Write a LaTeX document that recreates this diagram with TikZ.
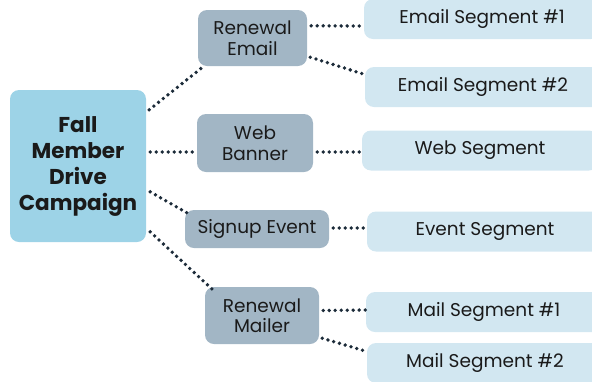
\documentclass[tikz,border=0pt]{standalone}
\usepackage{fontspec}
\setmainfont{Poppins}
\usepackage{tikz}

\definecolor{campblue}{HTML}{9DD3E7}
\definecolor{chanblue}{HTML}{A2B6C5}
\definecolor{segblue}{HTML}{D2E7F1}
\definecolor{dotnavy}{HTML}{1C2B39}
\definecolor{inkdark}{HTML}{1A1A1A}

\tikzset{
  campaign/.style={fill=campblue, rounded corners=9pt, align=center, text=inkdark,
    font=\fontsize{21.5}{26}\selectfont\bfseries},
  channel/.style={fill=chanblue, rounded corners=9pt, align=center, text=inkdark,
    font=\fontsize{18.5}{20.5}\selectfont},
  segment/.style={fill=segblue, rounded corners=9pt, minimum width=236pt, minimum height=40pt,
    text=inkdark, font=\fontsize{18.5}{20.5}\selectfont},
  dots/.style={draw=dotnavy, line width=3.8pt, line cap=round, dash pattern=on 0pt off 6pt}
}

\begin{document}
\begin{tikzpicture}[x=1pt,y=-1pt]
        \useasboundingbox (0,0) rectangle (592,381);
        \clip (0,0) rectangle (592,381);
        % campaign
        \node[campaign, minimum width=136pt, minimum height=152pt] (main) at (78,166) {Fall\\Member\\Drive\\Campaign};
        % channels
        \node[channel, minimum width=109pt, minimum height=56pt] (rem) at (252.5,38) {Renewal\\Email};
        \node[channel, minimum width=116pt, minimum height=58pt] (web) at (255,143) {Web\\Banner};
        \node[channel, minimum width=144pt, minimum height=38pt] (sig) at (257,229) {Signup Event};
        \node[channel, minimum width=114pt, minimum height=57pt] (rml) at (262,315.5) {Renewal\\Mailer};
        % segments
        \node[segment] (es1) at (482,19) {Email Segment \#1};
        \node[segment] (es2) at (483,87) {Email Segment \#2};
        \node[segment] (wsg) at (480,150.5) {Web Segment};
        \node[segment] (evs) at (485,231.5) {Event Segment};
        \node[segment] (ms1) at (484,312) {Mail Segment \#1};
        \node[segment] (ms2) at (485,363) {Mail Segment \#2};
        % links
        \draw[dots] ([xshift=3pt,yshift=-20pt]main.north east) -- ([xshift=6pt]rem.south west);
        \draw[dots] ([xshift=4pt,yshift=14pt]main.east) -- ([yshift=-9pt]web.west);
        \draw[dots] ([xshift=4pt,yshift=-102pt]main.north east) -- ([xshift=2pt,yshift=-3pt]sig.north west);
        \draw[dots] ([xshift=4pt,yshift=-142pt]main.north east) -- ([xshift=8pt,yshift=-3pt]rml.north west);
        \draw[dots] ([xshift=4pt,yshift=-16pt]rem.north east) -- ([yshift=-7pt]es1.west);
        \draw[dots] ([xshift=3pt,yshift=9pt]rem.south east) -- ([xshift=1pt,yshift=-8pt]es2.north west);
        \draw[dots] ([xshift=4pt,yshift=-9pt]web.east) -- ([yshift=-1.5pt]wsg.west);
        \draw[dots] ([xshift=4pt,yshift=1pt]sig.east) -- ([yshift=3.5pt]evs.west);
        \draw[dots] ([xshift=4pt,yshift=5pt]rml.east) -- ([yshift=2pt]ms1.west);
        \draw[dots] ([xshift=3pt,yshift=6pt]rml.south east) -- ([xshift=1pt,yshift=-9pt]ms2.north west);
    \end{tikzpicture}
\end{document}
